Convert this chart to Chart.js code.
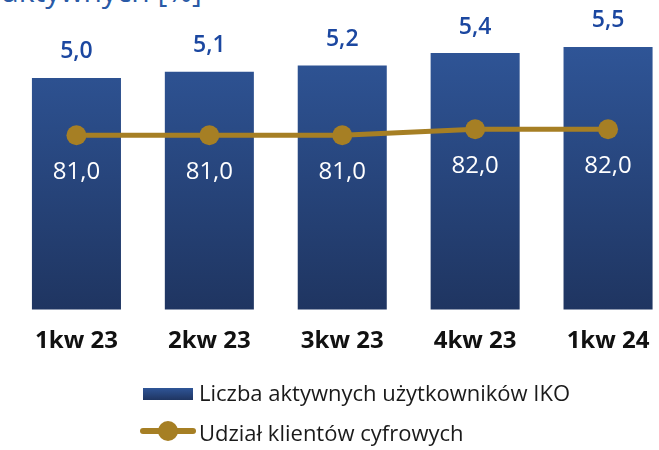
<!DOCTYPE html>
<html>
<head>
<meta charset="utf-8">
<script src="https://cdn.jsdelivr.net/npm/chart.js@4/dist/chart.umd.min.js"></script>
<style>
  html, body { margin: 0; padding: 0; background: #fff; }
  body { width: 659px; height: 450px; overflow: hidden; position: relative; font-family: "Open Sans", sans-serif; }
  #title { position: absolute; left: 2px; top: -24px; font-size: 30px; line-height: 30px; color: #2a5aa6; white-space: nowrap; }
  #wrap { position: absolute; left: 0; top: 0; width: 685px; height: 450px; }
  .leg { position: absolute; font-size: 22px; line-height: 22px; color: #1a1a1a; white-space: nowrap; }
  #box1 { position: absolute; left: 143px; top: 388px; width: 50px; height: 12px; background: linear-gradient(#2f5597, #1f3561); }
  #line2 { position: absolute; left: 140px; top: 428px; width: 56px; height: 6px; background: #a67f24; border-radius: 3px; }
  #dot2 { position: absolute; left: 158px; top: 421px; width: 20px; height: 20px; border-radius: 50%; background: #a67f24; }
</style>
</head>
<body>
<div id="title">aktywnych [%]</div>
<div id="wrap"><canvas id="c"></canvas></div>
<div id="box1"></div>
<div class="leg" style="left:199px; top:381px;">Liczba aktywnych użytkowników IKO</div>
<div id="line2"></div><div id="dot2"></div>
<div class="leg" style="left:199px; top:421px;">Udział klientów cyfrowych</div>
<script>
const categories = ["1kw 23", "2kw 23", "3kw 23", "4kw 23", "1kw 24"];
const activeUsers = [5.0, 5.1, 5.2, 5.4, 5.5];
const digitalShare = [81.0, 81.0, 81.0, 82.0, 82.0];
const seriesNames = ["Liczba aktywnych użytkowników IKO", "Udział klientów cyfrowych"];

const fmt = v => v.toFixed(1).replace('.', ',');
const GOLD = '#a67f24';

function barGradient(ctx) {
  const chart = ctx.chart;
  const area = chart.chartArea;
  if (!area) return '#2a4a85';
  const g = chart.ctx.createLinearGradient(0, area.top + 25, 0, area.bottom);
  g.addColorStop(0, '#2f5597');
  g.addColorStop(1, '#1f3561');
  return g;
}

const labelPlugin = {
  id: 'valueLabels',
  afterDatasetsDraw(chart) {
    const c = chart.ctx;
    c.save();
    c.textAlign = 'center';
    c.textBaseline = 'middle';
    chart.data.datasets.forEach((ds, i) => {
      const meta = chart.getDatasetMeta(i);
      meta.data.forEach((el, j) => {
        if (ds.type === 'bar') {
          c.fillStyle = '#1b47a0';
          c.font = '600 23px "Open Sans"';
          c.fillText(fmt(ds.data[j]), el.x, el.y - 26);
        } else {
          c.fillStyle = '#ffffff';
          c.font = '500 24px "Open Sans"';
          c.fillText(fmt(ds.data[j]), el.x, el.y + 37);
        }
      });
    });
    c.restore();
  }
};

new Chart(document.getElementById('c'), {
  type: 'bar',
  data: {
    labels: categories,
    datasets: [
      {
        type: 'line',
        label: seriesNames[1],
        data: digitalShare,
        yAxisID: 'y2',
        order: 0,
        borderColor: GOLD,
        backgroundColor: GOLD,
        borderWidth: 5,
        pointRadius: 10,
        pointHoverRadius: 10,
        pointBackgroundColor: GOLD,
        pointBorderWidth: 0,
        tension: 0
      },
      {
        type: 'bar',
        label: seriesNames[0],
        data: activeUsers,
        yAxisID: 'y',
        order: 1,
        backgroundColor: barGradient,
        borderWidth: 0,
        categoryPercentage: 1,
        barPercentage: 0.67
      }
    ]
  },
  options: {
    responsive: true,
    maintainAspectRatio: false,
    animation: false,
    layout: { padding: { left: 9.5, right: 10.5, top: 20, bottom: 76.6 } },
    plugins: { legend: { display: false }, tooltip: { enabled: false }, title: { display: false } },
    scales: {
      x: {
        grid: { display: false, drawTicks: false },
        border: { display: false },
        ticks: { color: '#111', padding: 17.5, font: { family: 'Open Sans', size: 24, weight: 'bold' } }
      },
      y: { display: false, min: 1.27, max: 5.933 },
      y2: { display: false, min: 51.8, max: 100.3, position: 'right' }
    }
  },
  plugins: [labelPlugin]
});
</script>
</body>
</html>
